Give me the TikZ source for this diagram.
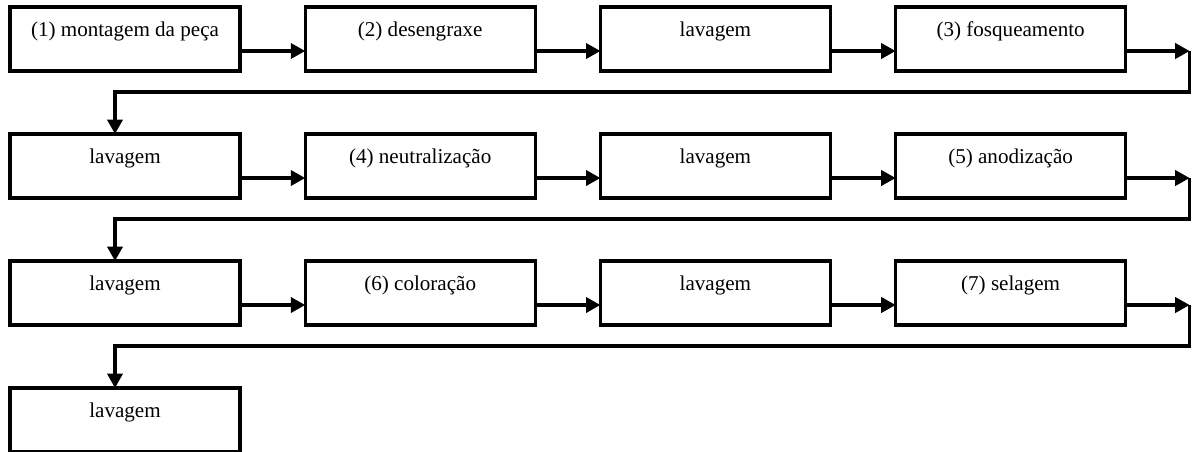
\documentclass[tikz,border=0pt]{standalone}
\usepackage{fontspec}
\setmainfont{Liberation Serif}
\usetikzlibrary{arrows.meta,positioning}

\tikzset{
  stepbox/.style={draw,rectangle,line width=2.2pt,outer sep=0pt,inner sep=1.5mm,
    minimum width=5.75cm,minimum height=1.6cm,text height=5.75mm,text depth=7.25mm,
    font=\fontsize{15}{18}\selectfont},
  flow/.style={line width=2.2pt,-{Triangle[length=3.6mm,width=3.8mm]}}
}

\begin{document}
\begin{tikzpicture}[node distance=1.575cm and 1.63cm]
\useasboundingbox (0,0) rectangle (29.8,-11.275);

% Steps
\node[stepbox] (s1) at (3.125,-0.975) {(1) montagem da peça};
\node[stepbox,right=of s1] (s2) {(2) desengraxe};
\node[stepbox,right=of s2] (s3) {lavagem};
\node[stepbox,right=of s3] (s4) {(3) fosqueamento};

\node[stepbox,below=of s1] (s5) {lavagem};
\node[stepbox,right=of s5] (s6) {(4) neutralização};
\node[stepbox,right=of s6] (s7) {lavagem};
\node[stepbox,right=of s7] (s8) {(5) anodização};

\node[stepbox,below=of s5] (s9) {lavagem};
\node[stepbox,right=of s9] (s10) {(6) coloração};
\node[stepbox,right=of s10] (s11) {lavagem};
\node[stepbox,right=of s11] (s12) {(7) selagem};

\node[stepbox,below=of s9] (s13) {lavagem};

% Row ends
\coordinate (t1) at ([xshift=1.6cm,yshift=-3mm]s4.east);
\coordinate (t2) at ([xshift=1.6cm,yshift=-3mm]s8.east);
\coordinate (t3) at ([xshift=1.6cm,yshift=-3mm]s12.east);

% Arrows
\draw[flow] ([yshift=-3mm]s1.east) -- ([yshift=-3mm]s2.west);
\draw[flow] ([yshift=-3mm]s2.east) -- ([yshift=-3mm]s3.west);
\draw[flow] ([yshift=-3mm]s3.east) -- ([yshift=-3mm]s4.west);
\draw[flow] ([yshift=-3mm]s4.east) -- (t1);
\draw[flow] (t1) |- ([xshift=-2.5mm,yshift=10.5mm]s5.north) -- ([xshift=-2.5mm]s5.north);

\draw[flow] ([yshift=-3mm]s5.east) -- ([yshift=-3mm]s6.west);
\draw[flow] ([yshift=-3mm]s6.east) -- ([yshift=-3mm]s7.west);
\draw[flow] ([yshift=-3mm]s7.east) -- ([yshift=-3mm]s8.west);
\draw[flow] ([yshift=-3mm]s8.east) -- (t2);
\draw[flow] (t2) |- ([xshift=-2.5mm,yshift=10.5mm]s9.north) -- ([xshift=-2.5mm]s9.north);

\draw[flow] ([yshift=-3mm]s9.east) -- ([yshift=-3mm]s10.west);
\draw[flow] ([yshift=-3mm]s10.east) -- ([yshift=-3mm]s11.west);
\draw[flow] ([yshift=-3mm]s11.east) -- ([yshift=-3mm]s12.west);
\draw[flow] ([yshift=-3mm]s12.east) -- (t3);
\draw[flow] (t3) |- ([xshift=-2.5mm,yshift=10.5mm]s13.north) -- ([xshift=-2.5mm]s13.north);
\end{tikzpicture}
\end{document}
